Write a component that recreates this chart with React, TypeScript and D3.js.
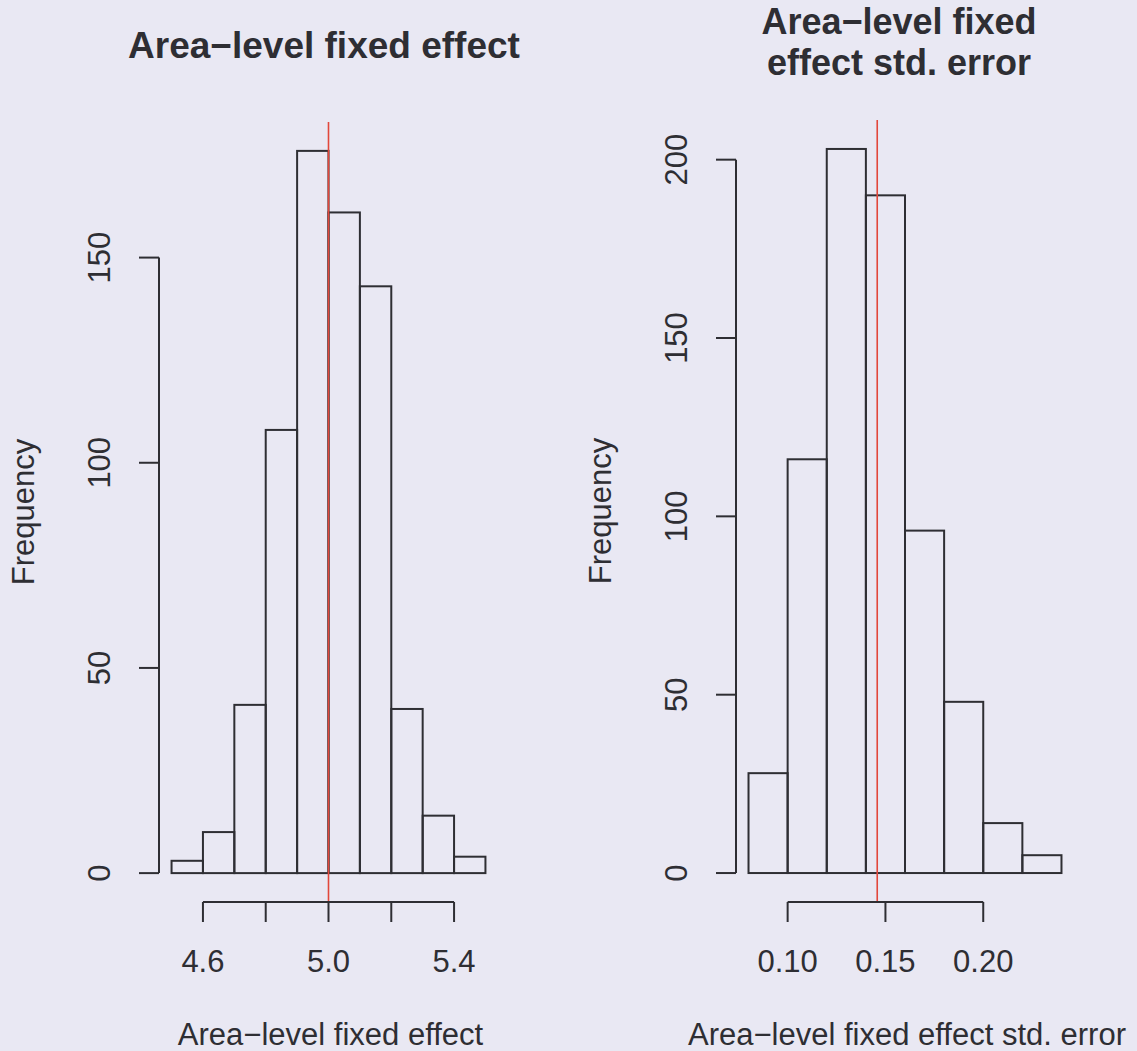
import React from "react";
import * as d3 from "d3";

// ---------- data ----------
const effectBreaks = [4.5, 4.6, 4.7, 4.8, 4.9, 5.0, 5.1, 5.2, 5.3, 5.4, 5.5];
const effectCounts = [3, 10, 41, 108, 176, 161, 143, 40, 14, 4];
const effectTicks = [4.6, 4.8, 5.0, 5.2, 5.4];
const effectTickLabels = ["4.6", "", "5.0", "", "5.4"];
const effectYTicks = [0, 50, 100, 150];
const effectRef = 5.0;

const seBreaks = [0.08, 0.1, 0.12, 0.14, 0.16, 0.18, 0.2, 0.22, 0.24];
const seCounts = [28, 116, 203, 190, 96, 48, 14, 5];
const seTicks = [0.1, 0.15, 0.2];
const seTickLabels = ["0.10", "0.15", "0.20"];
const seYTicks = [0, 50, 100, 150, 200];
const seRef = 0.1458;

const FONT = "'Liberation Sans', Arial, Helvetica, sans-serif";
const INK = "#2e2e33";
const BG = "#e9e8f3";

type PanelProps = {
  breaks: number[];
  counts: number[];
  ticks: number[];
  tickLabels: string[];
  yTicks: number[];
  refValue: number;
  left: number;
  right: number;
  top: number;
  bottom: number;
  titleLines: string[];
  titleX: number;
  titleBaselines: number[];
  titleSize: number;
  xlab: string;
};

function Panel(p: PanelProps) {
  const lo = p.breaks[0];
  const hi = p.breaks[p.breaks.length - 1];
  const xr = hi - lo;
  const x = d3.scaleLinear().domain([lo - 0.04 * xr, hi + 0.04 * xr]).range([p.left, p.right]);
  const ymax = d3.max(p.counts) as number;
  const y = d3.scaleLinear().domain([-0.04 * ymax, 1.04 * ymax]).range([p.bottom, p.top]);
  const axisY = p.bottom;
  const tickLen = 20;
  const fs = 31;
  const cx = (p.left + p.right) / 2;
  const cy = (p.top + p.bottom) / 2;
  const yLabelX = p.left - 49;
  const yTitleX = p.left - 125;

  return (
    <g>
      {p.titleLines.map((t, i) => (
        <text
          key={i}
          x={p.titleX}
          y={p.titleBaselines[i]}
          textAnchor="middle"
          fontFamily={FONT}
          fontWeight="bold"
          fontSize={p.titleSize}
          fill={INK}
        >
          {t}
        </text>
      ))}
      {p.counts.map((c, i) => (
        <rect
          key={i}
          x={x(p.breaks[i])}
          y={y(c)}
          width={x(p.breaks[i + 1]) - x(p.breaks[i])}
          height={y(0) - y(c)}
          fill="none"
          stroke={INK}
          strokeWidth={2}
        />
      ))}
      <line
        x1={x(p.refValue)}
        x2={x(p.refValue)}
        y1={p.top}
        y2={p.bottom}
        stroke="#e2473b"
        strokeWidth={1.6}
      />
      <line
        x1={x(p.ticks[0])}
        x2={x(p.ticks[p.ticks.length - 1])}
        y1={axisY}
        y2={axisY}
        stroke={INK}
        strokeWidth={2}
      />
      {p.ticks.map((t, i) => (
        <g key={i}>
          <line x1={x(t)} x2={x(t)} y1={axisY} y2={axisY + tickLen} stroke={INK} strokeWidth={2} />
          {p.tickLabels[i] !== "" && (
            <text x={x(t)} y={972} textAnchor="middle" fontFamily={FONT} fontSize={fs} fill={INK}>
              {p.tickLabels[i]}
            </text>
          )}
        </g>
      ))}
      <text x={cx + 2} y={1045} textAnchor="middle" fontFamily={FONT} fontSize={fs} fill={INK}>
        {p.xlab}
      </text>
      <line
        x1={p.left}
        x2={p.left}
        y1={y(p.yTicks[0])}
        y2={y(p.yTicks[p.yTicks.length - 1])}
        stroke={INK}
        strokeWidth={2}
      />
      {p.yTicks.map((t, i) => (
        <g key={i}>
          <line x1={p.left - tickLen} x2={p.left} y1={y(t)} y2={y(t)} stroke={INK} strokeWidth={2} />
          <text
            transform={`translate(${yLabelX},${y(t)}) rotate(-90)`}
            textAnchor="middle"
            fontFamily={FONT}
            fontSize={fs}
            fill={INK}
          >
            {t}
          </text>
        </g>
      ))}
      <text
        transform={`translate(${yTitleX},${cy}) rotate(-90)`}
        textAnchor="middle"
        fontFamily={FONT}
        fontSize={fs}
        fill={INK}
      >
        Frequency
      </text>
    </g>
  );
}

export default function App() {
  return (
    <svg
      width={1137}
      height={1051}
      style={{ position: "absolute", left: 0, top: 0, display: "block" }}
    >
      <rect x={0} y={0} width={1137} height={1051} fill={BG} />
      <Panel
        breaks={effectBreaks}
        counts={effectCounts}
        ticks={effectTicks}
        tickLabels={effectTickLabels}
        yTicks={effectYTicks}
        refValue={effectRef}
        left={159}
        right={498}
        top={122}
        bottom={902}
        titleLines={["Area\u2212level fixed effect"]}
        titleX={324}
        titleBaselines={[58]}
        titleSize={37}
        xlab={"Area\u2212level fixed effect"}
      />
      <Panel
        breaks={seBreaks}
        counts={seCounts}
        ticks={seTicks}
        tickLabels={seTickLabels}
        yTicks={seYTicks}
        refValue={seRef}
        left={736}
        right={1074}
        top={120}
        bottom={902}
        titleLines={["Area\u2212level fixed", "effect std. error"]}
        titleX={899}
        titleBaselines={[34, 75]}
        titleSize={36}
        xlab={"Area\u2212level fixed effect std. error"}
      />
    </svg>
  );
}
